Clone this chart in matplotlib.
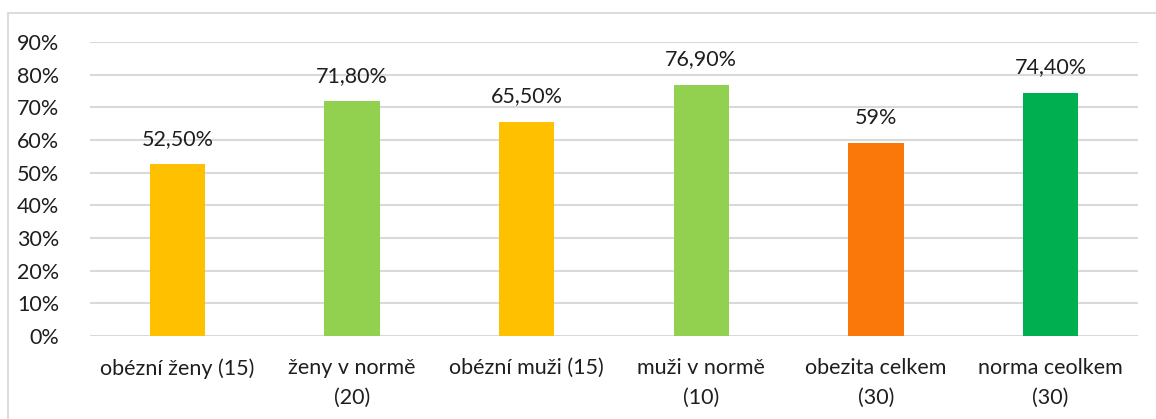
import matplotlib
matplotlib.use("Agg")
import matplotlib.pyplot as plt
from matplotlib.patches import Rectangle
from matplotlib.ticker import FuncFormatter

categories = ["obézní ženy (15)", "ženy v normě\n(20)", "obézní muži (15)",
              "muži v normě\n(10)", "obezita celkem\n(30)", "norma ceolkem\n(30)"]
values = [52.5, 71.8, 65.5, 76.9, 59.0, 74.4]
value_labels = ["52,50%", "71,80%", "65,50%", "76,90%", "59%", "74,40%"]
colors = ["#FFC000", "#92D050", "#FFC000", "#92D050", "#FA780A", "#00B050"]

plt.rcParams["font.family"] = ["Lato", "DejaVu Sans"]
FS = 15.5

W, H = 1156, 419
fig = plt.figure(figsize=(W / 100, H / 100), dpi=100)
fig.patch.set_facecolor("white")

# outer chart frame
fig.patches.append(Rectangle((8 / W, -0.1), 1.2, 1 - 13 / H + 0.1,
                             transform=fig.transFigure, fill=False,
                             edgecolor="#D9D9D9", linewidth=1.3))

ax = fig.add_axes([90 / W, (H - 336) / H, (1138 - 90) / W, (336 - 42) / H])
x = list(range(len(categories)))
ax.bar(x, values, width=0.315, color=colors, zorder=3)
for xi, v, lab in zip(x, values, value_labels):
    ax.annotate(lab, (xi, v), xytext=(0, 14), textcoords="offset points",
                ha="center", va="baseline", fontsize=FS, color="#1E1E1E")

ax.set_xlim(-0.5, len(categories) - 0.5)
ax.set_ylim(0, 90)
ax.set_yticks(range(0, 91, 10))
ax.yaxis.set_major_formatter(FuncFormatter(lambda v, p: f"{int(v)}%"))
ax.set_xticks(x)
ax.set_xticklabels(categories, fontsize=FS, color="#1E1E1E", linespacing=1.6)
ax.tick_params(axis="y", labelsize=FS, labelcolor="#1E1E1E", length=0, pad=22)
ax.tick_params(axis="x", length=0, pad=16)
ax.grid(axis="y", color="#D9D9D9", linewidth=1.5, zorder=0)
for s in ax.spines.values():
    s.set_visible(False)

fig.savefig("out.png", dpi=100)
